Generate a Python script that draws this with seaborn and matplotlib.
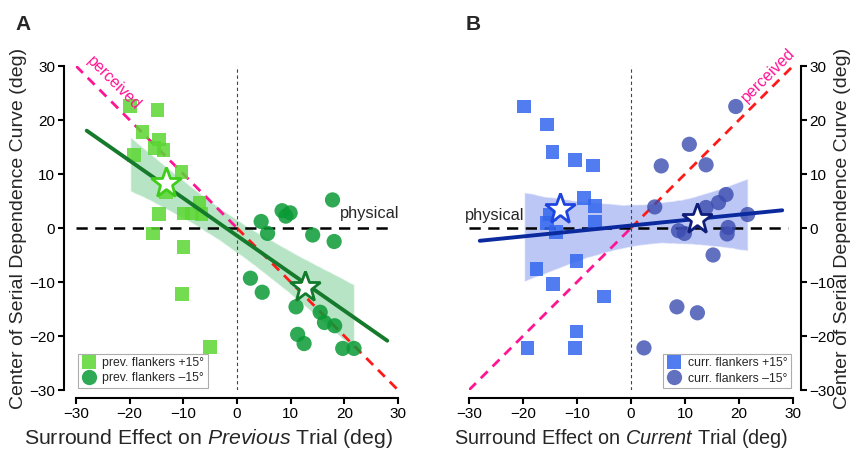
import numpy as np
import pandas as pd
import seaborn as sns
import matplotlib.pyplot as plt
from matplotlib.lines import Line2D

# ---------------- data ----------------
# Panel A: previous-trial surround effect
a_sq_x = [-19.9, -14.8, -17.6, -14.5, -15.4, -13.7, -19.2, -10.3, -13.2, -14.5,
          -10.0, -8.4, -7.0, -6.6, -15.7, -10.0, -10.2, -5.0]
a_sq_y = [22.6, 21.9, 17.8, 16.4, 14.8, 14.4, 13.5, 10.4, 6.7, 2.6,
          2.7, 2.7, 4.6, 2.6, -1.0, -3.5, -12.2, -22.0]
a_ci_x = [17.8, 8.4, 9.9, 9.1, 4.5, 5.7, 14.1, 18.1, 2.5, 4.7,
          11.0, 15.5, 16.3, 18.2, 11.3, 12.5, 19.7, 21.8]
a_ci_y = [5.2, 3.2, 2.8, 2.2, 1.2, -1.0, -1.3, -2.5, -9.3, -11.9,
          -14.6, -15.6, -17.5, -18.1, -19.7, -21.4, -22.3, -22.3]
a_star_x = [-13.2, 12.7]
a_star_y = [8.3, -10.9]

# Panel B: current-trial surround effect
b_sq_x = [-19.8, -15.6, -14.5, -10.4, -7.0, -8.7, -6.7, -6.7, -15.0, -15.6,
          -13.9, -10.1, -17.5, -14.4, -5.0, -10.1, -19.2, -10.4]
b_sq_y = [22.5, 19.2, 14.1, 12.6, 11.6, 5.6, 4.1, 1.2, 2.5, 0.9,
          -0.7, -6.1, -7.6, -10.4, -12.7, -19.2, -22.2, -22.2]
b_ci_x = [19.4, 10.8, 5.6, 13.9, 17.6, 16.2, 13.9, 4.4, 21.6, 8.8,
          9.9, 18.0, 17.8, 15.2, 8.5, 12.3, 2.4]
b_ci_y = [22.5, 15.5, 11.5, 11.7, 6.2, 4.7, 3.8, 3.9, 2.5, -0.5,
          -1.0, 0.1, -1.1, -5.0, -14.6, -15.7, -22.2]
b_star_x = [-13.1, 12.3]
b_star_y = [3.6, 1.6]

ticks = [-30, -20, -10, 0, 10, 20, 30]
fit_range = [-28, 28]
a_labels = ["prev. flankers +15\u00b0", "prev. flankers \u201315\u00b0"]
b_labels = ["curr. flankers +15\u00b0", "curr. flankers \u201315\u00b0"]

# ---------------- style ----------------
sns.set_style("ticks")
plt.rcParams["font.family"] = ["Liberation Sans", "DejaVu Sans"]
plt.rcParams["mathtext.fontset"] = "custom"
plt.rcParams["mathtext.rm"] = "Liberation Sans"
plt.rcParams["mathtext.it"] = "Liberation Sans:italic"

PINK = "#ff1493"
RED = "#ff1a1a"

fig = plt.figure(figsize=(8.51, 4.51), dpi=100)
axA = fig.add_axes([76 / 851, 61 / 451, 322 / 851, 324 / 451])
axB = fig.add_axes([469 / 851, 61 / 451, 324 / 851, 324 / 451])


def panel(ax, sx, sy, cx, cy, star_x, star_y, c_sq, c_ci, a_ci, c_line, c_band,
          star_cols, labels, legend_loc, sign):
    # reference lines
    ax.plot([-30, 0], [-30 * sign, 0], color=PINK, lw=2, ls=(0, (3.5, 2.5)), zorder=2.5)
    ax.plot([0, 30], [0, 30 * sign], color=RED, lw=2, ls=(0, (3.5, 2.5)), zorder=2.5)
    ax.plot([-30, 29], [0, 0], color="k", lw=1.8, ls=(0, (4.5, 3)), zorder=2.5)
    ax.plot([0, 0], [-30, 30], color="#444444", lw=0.8, ls=(0, (3, 2.5)), zorder=2.5)

    all_x = np.concatenate([sx, cx])
    all_y = np.concatenate([sy, cy])
    n_before = len(ax.collections)
    sns.regplot(x=all_x, y=all_y, ax=ax, scatter=False, ci=95, truncate=True,
                color=c_band, line_kws={"alpha": 0}, n_boot=2000, seed=1)
    for coll in ax.collections[n_before:]:
        coll.set_facecolor(c_band)
        coll.set_alpha(0.55)
        coll.set_zorder(2)

    sns.scatterplot(x=sx, y=sy, ax=ax, marker="s", s=95, color=c_sq, alpha=0.85,
                    edgecolor="none", linewidth=0, legend=False, zorder=3)
    sns.scatterplot(x=cx, y=cy, ax=ax, marker="o", s=120, color=c_ci, alpha=a_ci,
                    edgecolor="none", linewidth=0, legend=False, zorder=3)

    coef = np.polyfit(all_x, all_y, 1)
    xs = np.array(fit_range, dtype=float)
    ax.plot(xs, np.polyval(coef, xs), color=c_line, lw=2.8, zorder=4,
            solid_capstyle="round")

    for x, y, c in zip(star_x, star_y, star_cols):
        ax.plot([x], [y], marker="*", ms=23, mfc="white", mec=c, mew=2,
                ls="none", zorder=6)

    handles = [Line2D([], [], marker="s", ls="none", color=c_sq, alpha=0.85, ms=10, mew=0),
               Line2D([], [], marker="o", ls="none", color=c_ci, alpha=a_ci, ms=11, mew=0)]
    leg = ax.legend(handles, labels, loc=legend_loc, fontsize=8.8, frameon=True,
                    fancybox=False, edgecolor="#999999", borderpad=0.3,
                    handletextpad=0.5, labelspacing=0.25, borderaxespad=0.15,
                    handlelength=1.2)
    leg.get_frame().set_linewidth(0.8)

    ax.set_xlim(-30, 30)
    ax.set_ylim(-30, 30)
    ax.set_xticks(ticks)
    ax.set_yticks(ticks)
    ax.tick_params(labelsize=11, width=1.5, length=4, pad=2, color="k", labelcolor="k")
    for sp in ax.spines.values():
        sp.set_linewidth(1.5)
        sp.set_color("k")


panel(axA, a_sq_x, a_sq_y, a_ci_x, a_ci_y, a_star_x, a_star_y,
      "#5cd633", "#0a9a36", 0.85, "#157a2b", "#7fcf98", ["#3fcc1a", "#117a2b"],
      a_labels, "lower left", -1)
panel(axB, b_sq_x, b_sq_y, b_ci_x, b_ci_y, b_star_x, b_star_y,
      "#3366ee", "#3a4cb0", 0.8, "#0b2a9e", "#8899ee", ["#1f45e0", "#0f1e78"],
      b_labels, "lower right", 1)

# annotations
axA.text(19.2, 2.6, "physical", fontsize=11.8, ha="left", va="center", zorder=7)
axB.text(-30.7, 2.4, "physical", fontsize=11.8, ha="left", va="center", zorder=7)
axA.text(-22.9, 26.9, "perceived", fontsize=11.5, color=PINK, rotation=-45,
         rotation_mode="anchor", ha="center", va="center", clip_on=False)
axB.text(25.4, 28.3, "perceived", fontsize=11.5, color=PINK, rotation=45,
         rotation_mode="anchor", ha="center", va="center", clip_on=False)

# spines
sns.despine(ax=axA, offset={"left": 9, "bottom": 6}, trim=True)
sns.despine(ax=axB, left=True, right=False, offset={"right": 6, "bottom": 6}, trim=True)
axB.yaxis.tick_right()
axB.yaxis.set_label_position("right")

ylab = "Center of Serial Dependence Curve (deg)"
axA.set_ylabel(ylab, fontsize=14)
axB.set_ylabel(ylab, fontsize=14, rotation=90)
axA.set_xlabel(r"Surround Effect on $\it{Previous}$ Trial (deg)", fontsize=15.3)
axB.set_xlabel(r"Surround Effect on $\it{Current}$ Trial (deg)", fontsize=14.3)
axA.yaxis.set_label_coords(-0.152, 0.5)
axB.yaxis.set_label_coords(1.128, 0.5)
axA.xaxis.set_label_coords((209 - 76) / 322, -0.115)
axB.xaxis.set_label_coords((621 - 469) / 324, -0.115)

fig.text(23 / 851, 1 - 24 / 451, "A", fontsize=15, fontweight="bold", ha="center", va="center")
fig.text(473 / 851, 1 - 24 / 451, "B", fontsize=15, fontweight="bold", ha="center", va="center")

fig.savefig("out.png", dpi=100)
